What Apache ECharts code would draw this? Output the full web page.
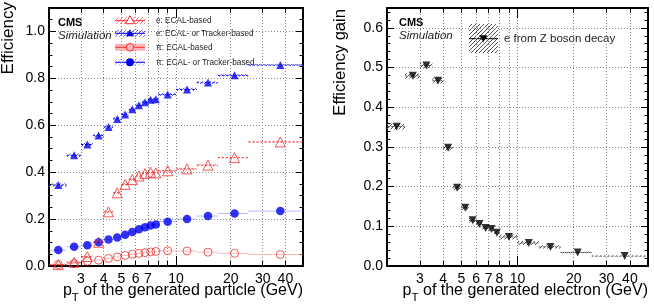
<!DOCTYPE html>
<html>
<head>
<meta charset="utf-8">
<script src="https://cdn.jsdelivr.net/npm/echarts@6/dist/echarts.min.js"></script>
<style>
html, body { margin: 0; padding: 0; background: #fff; }
#chart { width: 654px; height: 304px; }
</style>
</head>
<body>
<div id="chart"></div>
<script>
// generated pT bins (GeV)
const ptCenter = [2.25, 2.75, 3.25, 3.75, 4.25, 4.75, 5.25, 5.75, 6.25, 6.75, 7.25, 7.75, 9, 11.5, 15, 21, 37.5];
const ptLow    = [2, 2.5, 3, 3.5, 4, 4.5, 5, 5.5, 6, 6.5, 7, 7.5, 8, 10, 13, 17, 25];
const ptHigh   = [2.5, 3, 3.5, 4, 4.5, 5, 5.5, 6, 6.5, 7, 7.5, 8, 10, 13, 17, 25, 50];

// left panel: efficiency
const eEcal       = [0.006, 0.016, 0.040, 0.101, 0.231, 0.312, 0.348, 0.369, 0.384, 0.394, 0.400, 0.397, 0.406, 0.414, 0.430, 0.462, 0.529];
const eEcalErr    = [0.004, 0.004, 0.005, 0.006, 0.006, 0.006, 0.006, 0.006, 0.006, 0.006, 0.006, 0.006, 0.005, 0.005, 0.005, 0.004, 0.003];
const eEcalOrTrk  = [0.345, 0.472, 0.518, 0.556, 0.593, 0.627, 0.646, 0.668, 0.685, 0.698, 0.709, 0.711, 0.731, 0.753, 0.782, 0.813, 0.857];
const eEcalOrTrkErr = [0.008, 0.008, 0.008, 0.008, 0.008, 0.008, 0.008, 0.008, 0.008, 0.008, 0.008, 0.008, 0.007, 0.007, 0.006, 0.005, 0.004];
const piEcal      = [0.006, 0.010, 0.020, 0.025, 0.032, 0.039, 0.045, 0.050, 0.054, 0.057, 0.060, 0.062, 0.065, 0.064, 0.059, 0.054, 0.049];
const piEcalOrTrk = [0.068, 0.082, 0.089, 0.101, 0.113, 0.122, 0.133, 0.145, 0.157, 0.165, 0.173, 0.177, 0.189, 0.200, 0.213, 0.224, 0.234];

// right panel: efficiency gain, e from Z
const gainZee    = [0.351, 0.479, 0.505, 0.467, 0.298, 0.197, 0.147, 0.115, 0.106, 0.096, 0.093, 0.084, 0.073, 0.058, 0.048, 0.034, 0.025];
const gainZeeErr = [0.007, 0.007, 0.007, 0.007, 0.007, 0.006, 0.006, 0.006, 0.006, 0.006, 0.006, 0.006, 0.006, 0.005, 0.004, 0.002, 0.001];

// axis ticks
const xTicks       = [3, 4, 5, 6, 7, 8, 9, 10, 20, 30, 40];
const xLabelsLeft  = [3, 4, 5, 6, 7, 10, 20, 30, 40];
const xLabelsRight = [3, 4, 5, 6, 7, 8, 10, 20, 30, 40];
const X_MIN = 2, X_MAX = 50;

const FONT = '"Liberation Sans", Arial, Helvetica, sans-serif';
const RED = '#f03030', BLUE = '#0000ee';

function hatch(color, step) {
  const c = document.createElement('canvas');
  c.width = step; c.height = step;
  const ctx = c.getContext('2d');
  ctx.strokeStyle = color; ctx.lineWidth = 1;
  ctx.beginPath();
  ctx.moveTo(0, step); ctx.lineTo(step, 0);
  ctx.moveTo(-1, 1); ctx.lineTo(1, -1);
  ctx.moveTo(step - 1, step + 1); ctx.lineTo(step + 1, step - 1);
  ctx.stroke();
  return { image: c, repeat: 'repeat' };
}

const lg = v => Math.log10(v);
const black = { color: '#000', width: 1 };

// per grid: [0] log axis carrying the data, [1] bottom frame/labels/grid, [2] top frame, [3][4] long tick at 10
function xAxes(grid, labels) {
  const base = { type: 'value', gridIndex: grid, min: lg(X_MIN), max: lg(X_MAX) };
  return [
    { type: 'log', gridIndex: grid, position: 'bottom', min: X_MIN, max: X_MAX, show: false },
    Object.assign({}, base, {
      position: 'bottom',
      axisLine: { show: true, onZero: false, lineStyle: { color: '#000', width: 2 } },
      axisTick: { show: true, inside: true, length: 5, customValues: xTicks.map(lg), lineStyle: black },
      axisLabel: { customValues: labels.map(lg), formatter: v => String(Math.round(Math.pow(10, v))),
                   margin: 6, fontSize: 14, color: '#000', fontFamily: FONT },
      splitLine: { show: true, lineStyle: { color: '#888', type: [1, 2], width: 1 } }
    }),
    Object.assign({}, base, {
      position: 'top',
      axisLine: { show: true, onZero: false, lineStyle: { color: '#000', width: 2 } },
      axisTick: { show: true, inside: true, length: 5, customValues: xTicks.map(lg), lineStyle: black },
      axisLabel: { show: false }, splitLine: { show: false }
    }),
    Object.assign({}, base, {
      position: 'bottom',
      axisLine: { show: false, onZero: false },
      axisTick: { show: true, inside: true, length: 10, customValues: [1], lineStyle: black },
      axisLabel: { show: false }, splitLine: { show: false }
    }),
    Object.assign({}, base, {
      position: 'top',
      axisLine: { show: false, onZero: false },
      axisTick: { show: true, inside: true, length: 10, customValues: [1], lineStyle: black },
      axisLabel: { show: false }, splitLine: { show: false }
    })
  ];
}

function yAxes(grid, max, interval, minorSplit) {
  const common = {
    type: 'value', gridIndex: grid, min: 0, max: max, interval: interval,
    axisLine: { show: true, onZero: false, lineStyle: { color: '#000', width: 2 } },
    axisTick: { show: true, inside: true, length: 7, lineStyle: black },
    minorTick: { show: true, splitNumber: minorSplit, length: 3.5, lineStyle: black }
  };
  return [
    Object.assign({}, common, {
      position: 'left',
      axisLabel: { formatter: v => v.toFixed(1), showMaxLabel: false, margin: 4,
                   fontSize: 14, color: '#000', fontFamily: FONT },
      splitLine: { show: true, lineStyle: { color: '#888', type: [1, 2], width: 1 } }
    }),
    Object.assign({}, common, {
      position: 'right', axisLabel: { show: false }, splitLine: { show: false }
    })
  ];
}

function band(vals, errs, xi, yi, fill, stroke, dash) {
  return {
    type: 'custom', xAxisIndex: xi, yAxisIndex: yi, silent: true, z: 1,
    data: ptCenter.map((x, i) => [x, vals[i], ptLow[i], ptHigh[i], errs ? errs[i] : 0]),
    encode: { x: 0, y: 1 },
    renderItem: function (params, api) {
      const y = api.value(1), e = api.value(4);
      const a = api.coord([api.value(2), y]);
      const b = api.coord([api.value(3), y]);
      const children = [];
      if (fill && e > 0) {
        const t = api.coord([api.value(2), y + e])[1];
        const d = api.coord([api.value(2), y - e])[1];
        children.push({ type: 'rect', shape: { x: a[0], y: t, width: b[0] - a[0], height: d - t }, style: { fill: fill } });
      }
      children.push({ type: 'line', shape: { x1: a[0], y1: a[1], x2: b[0], y2: b[1] },
                      style: { stroke: stroke, lineWidth: 1, lineDash: dash } });
      return { type: 'group', children: children };
    }
  };
}

function points(vals, xi, yi, symbol, size, style, rotate) {
  return {
    type: 'scatter', xAxisIndex: xi, yAxisIndex: yi, z: 3, silent: true,
    symbol: symbol, symbolSize: size, symbolRotate: rotate || 0,
    itemStyle: style,
    data: ptCenter.map((x, i) => [x, vals[i]])
  };
}

const hatchBlue = hatch('rgba(60,60,255,0.8)', 4);
const hatchRed = hatch('rgba(255,80,80,0.7)', 4);
const hatchGray = hatch('#555', 4);
const hatchLightBlue = hatch('rgba(120,120,255,0.5)', 4);

const openRed = { color: 'transparent', borderColor: RED, borderWidth: 1 };

// legend glyphs (left panel)
const legRows = [20.7, 33.3, 47.3, 62.3];
const legTexts = ['e: ECAL-based', 'e: ECAL- or Tracker-based', '\u03c0: ECAL-based', '\u03c0: ECAL- or Tracker-based'];
const legFill = [hatchRed, hatchBlue, 'rgba(255,120,120,0.55)', hatchLightBlue];
const legLine = [RED, BLUE, RED, BLUE];
const graphics = [];
legRows.forEach((y, i) => {
  graphics.push({ type: 'rect', shape: { x: 115, y: y - 3.5, width: 30, height: 7 }, style: { fill: legFill[i] }, silent: true });
  graphics.push({ type: 'line', shape: { x1: 115, y1: y, x2: 145, y2: y }, style: { stroke: legLine[i], lineWidth: 1 }, silent: true });
  graphics.push({ type: 'text', x: 156, y: y, silent: true,
    style: { text: legTexts[i], fill: '#222', font: '8.2px ' + FONT, align: 'left', verticalAlign: 'middle' } });
});
graphics.push({ type: 'polygon', shape: { points: [[130, legRows[0] - 5], [134.5, legRows[0] + 3], [125.5, legRows[0] + 3]] }, style: { fill: '#fff', stroke: RED, lineWidth: 1 }, silent: true });
graphics.push({ type: 'polygon', shape: { points: [[130, legRows[1] - 4], [134, legRows[1] + 3], [126, legRows[1] + 3]] }, style: { fill: BLUE }, silent: true });
graphics.push({ type: 'circle', shape: { cx: 130, cy: legRows[2], r: 3.8 }, style: { fill: 'rgba(255,180,180,1)', stroke: RED, lineWidth: 1 }, silent: true });
graphics.push({ type: 'circle', shape: { cx: 130, cy: legRows[3], r: 4 }, style: { fill: BLUE }, silent: true });

// right legend
graphics.push({ type: 'rect', shape: { x: 469, y: 24, width: 29, height: 29 }, style: { fill: hatchGray }, silent: true });
graphics.push({ type: 'line', shape: { x1: 469, y1: 38.7, x2: 498, y2: 38.7 }, style: { stroke: '#000', lineWidth: 1 }, silent: true });
graphics.push({ type: 'polygon', shape: { points: [[479.3, 35.3], [487.3, 35.3], [483.3, 42.3]] }, style: { fill: '#000' }, silent: true });
graphics.push({ type: 'text', x: 504, y: 38.7, silent: true,
  style: { text: 'e from Z boson decay', fill: '#222', font: '11.5px ' + FONT, align: 'left', verticalAlign: 'middle' } });

// CMS labels
[58, 399].forEach(x => {
  graphics.push({ type: 'text', x: x, y: 22.8, silent: true,
    style: { text: 'CMS', fill: '#000', font: 'bold 11px ' + FONT, verticalAlign: 'middle' } });
  graphics.push({ type: 'text', x: x, y: 36, silent: true,
    style: { text: 'Simulation', fill: '#222', font: 'italic 11.5px ' + FONT, verticalAlign: 'middle' } });
});

// axis titles
graphics.push({ type: 'text', x: 8, y: 2, rotation: Math.PI / 2, silent: true,
  style: { text: 'Efficiency', fill: '#000', font: '17px ' + FONT, align: 'right', verticalAlign: 'middle' } });
graphics.push({ type: 'text', x: 340, y: 9, rotation: Math.PI / 2, silent: true,
  style: { text: 'Efficiency gain', fill: '#000', font: '16.6px ' + FONT, align: 'right', verticalAlign: 'middle' } });
const subRich = {
  a: { fontSize: 16, fontFamily: FONT, color: '#000' },
  b: { fontSize: 11.5, fontFamily: FONT, color: '#000', padding: [14, 0, 0, 0] }
};
graphics.push({ type: 'text', x: 303, y: 291, silent: true,
  style: { text: '{a|p}{b|T}{a| of the generated particle (GeV)}', rich: subRich, align: 'right', verticalAlign: 'middle' } });
graphics.push({ type: 'text', x: 648, y: 291, silent: true,
  style: { text: '{a|p}{b|T}{a| of the generated electron (GeV)}', rich: subRich, align: 'right', verticalAlign: 'middle' } });

const chart = echarts.init(document.getElementById('chart'));
chart.setOption({
  animation: false,
  backgroundColor: '#fff',
  textStyle: { fontFamily: FONT },
  grid: [
    { left: 49, top: 8, width: 254, height: 258 },
    { left: 387, top: 8, width: 261, height: 258 }
  ],
  xAxis: xAxes(0, xLabelsLeft).concat(xAxes(1, xLabelsRight)),
  yAxis: yAxes(0, 1.1, 0.2, 4).concat(yAxes(1, 0.65, 0.1, 5)),
  series: [
    band(piEcal, null, 0, 0, null, 'rgba(255,140,140,0.6)', null),
    band(piEcalOrTrk, null, 0, 0, null, 'rgba(140,140,255,0.6)', null),
    band(eEcal, eEcalErr, 0, 0, hatchRed, RED, [2, 2]),
    band(eEcalOrTrk, eEcalOrTrkErr, 0, 0, hatchBlue, BLUE, [2, 2]),
    points(piEcalOrTrk, 0, 0, 'circle', 8.5, { color: BLUE }),
    points(piEcal, 0, 0, 'circle', 8, openRed),
    points(eEcal, 0, 0, 'triangle', 10, openRed),
    points(eEcalOrTrk, 0, 0, 'triangle', 8, { color: BLUE }),
    band(gainZee, gainZeeErr, 5, 2, hatchGray, '#555', [2, 2]),
    points(gainZee, 5, 2, 'triangle', 8, { color: '#000' }, 180)
  ],
  graphic: graphics
});
</script>
</body>
</html>
